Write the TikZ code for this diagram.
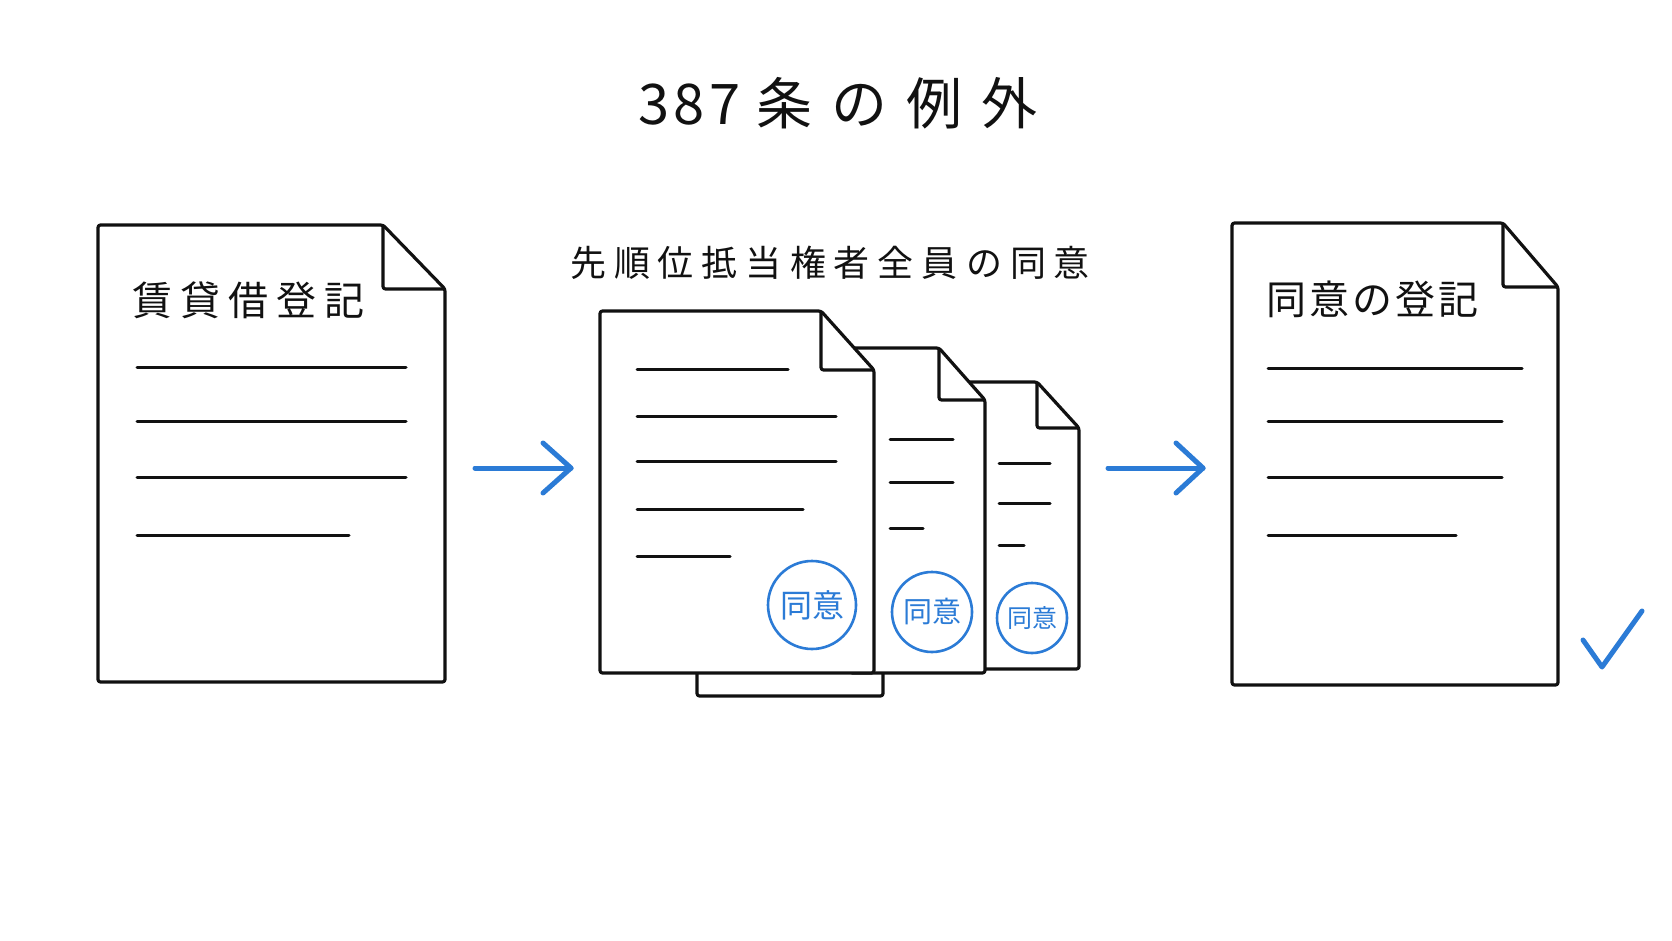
\documentclass[tikz,border=0pt]{standalone}
\usepackage{fontspec}
\setmainfont{Noto Sans CJK JP}
\definecolor{ink}{HTML}{111111}
\definecolor{stampblue}{HTML}{2B7BD6}
\newcommand\paperdoc[6]{%
  \draw[docline, fill=white] (#1,#2) -- (#3,#2) -- (#4,#5) -- (#4,#6) -- (#1,#6) -- cycle;
  \draw[docline] (#3,#2) -- (#3,#5) -- (#4,#5);}
\begin{document}
\begin{tikzpicture}[x=1pt,y=-1pt,
  docline/.style={line width=3.2pt, draw=ink, line join=round, rounded corners=2.5pt},
  txtline/.style={line width=3pt, draw=ink, line cap=round},
  stamp/.style={circle, draw=stampblue, line width=2.6pt, text=stampblue, inner sep=0pt, minimum size=#1},
  bluearrow/.style={line width=5pt, draw=stampblue, line cap=round, line join=round},
  lbl/.style={text=ink, inner sep=0pt, anchor=center}]
\fill[white] (0,0) rectangle (1672,941);
\useasboundingbox (0,0) rectangle (1672,941);

% title
\node[lbl, font=\fontsize{56}{60}\selectfont] (title) at (838,103)
  {3\kern4pt 8\kern4pt 7\kern16pt 条\kern19pt の\kern19pt 例\kern19pt 外};

% left document
\paperdoc{98}{225}{383}{445}{289}{682}
\node[lbl, font=\fontsize{40}{44}\selectfont] (lbl1) at (248,300)
  {賃\kern8pt 貸\kern8pt 借\kern8pt 登\kern8pt 記};
\foreach \yy/\xe in {367/406, 421/406, 477/406, 535/349}
  \draw[txtline] (137,\yy) -- (\xe,\yy);

% middle label
\node[lbl, font=\fontsize{36}{40}\selectfont] (lbl2) at (830,263)
  {先\kern8pt 順\kern8pt 位\kern8pt 抵\kern8pt 当\kern8pt 権\kern8pt 者\kern8pt 全\kern8pt 員\kern8pt の\kern8pt 同\kern8pt 意};

% middle stack (back to front)
\draw[docline, fill=white] (697,400) rectangle (883,696);
\paperdoc{960}{382}{1037}{1079}{428}{669}
\foreach \yy/\xe in {463/1050, 503/1050, 545/1024}
  \draw[txtline] (999,\yy) -- (\xe,\yy);
\node[stamp=70pt, font=\fontsize{25}{28}\selectfont] (st3) at (1032,618) {同意};
\paperdoc{850}{348}{939}{985}{400}{673}
\foreach \yy/\xe in {439/953, 482/953, 528/923}
  \draw[txtline] (890,\yy) -- (\xe,\yy);
\node[stamp=80pt, font=\fontsize{29}{32}\selectfont] (st2) at (932,612) {同意};
\paperdoc{600}{311}{821}{874}{370}{673}
\foreach \yy/\xe in {369/788, 416/836, 461/836, 509/803, 556/730}
  \draw[txtline] (637,\yy) -- (\xe,\yy);
\node[stamp=88pt, font=\fontsize{32}{35}\selectfont] (st1) at (812,605) {同意};

% right document
\paperdoc{1232}{223}{1503}{1558}{287}{685}
\node[lbl, font=\fontsize{40}{44}\selectfont] (lbl3) at (1372,299)
  {同\kern3pt 意\kern3pt の\kern3pt 登\kern3pt 記};
\foreach \yy/\xe in {368/1522, 421/1502, 477/1502, 535/1456}
  \draw[txtline] (1268,\yy) -- (\xe,\yy);

% arrows
\coordinate (a1s) at (475,468);
\coordinate (a1e) at (571,468);
\coordinate (a2s) at (1108,468);
\coordinate (a2e) at (1203,468);
\draw[bluearrow] (a1s) -- (a1e);
\draw[bluearrow] (a1e) ++(-28,-25) -- (a1e) -- ++(-28,25);
\draw[bluearrow] (a2s) -- (a2e);
\draw[bluearrow] (a2e) ++(-27,-25) -- (a2e) -- ++(-27,25);

% check mark
\draw[bluearrow] (1583,640) -- (1602,667) -- (1642,611);
\end{tikzpicture}
\end{document}
